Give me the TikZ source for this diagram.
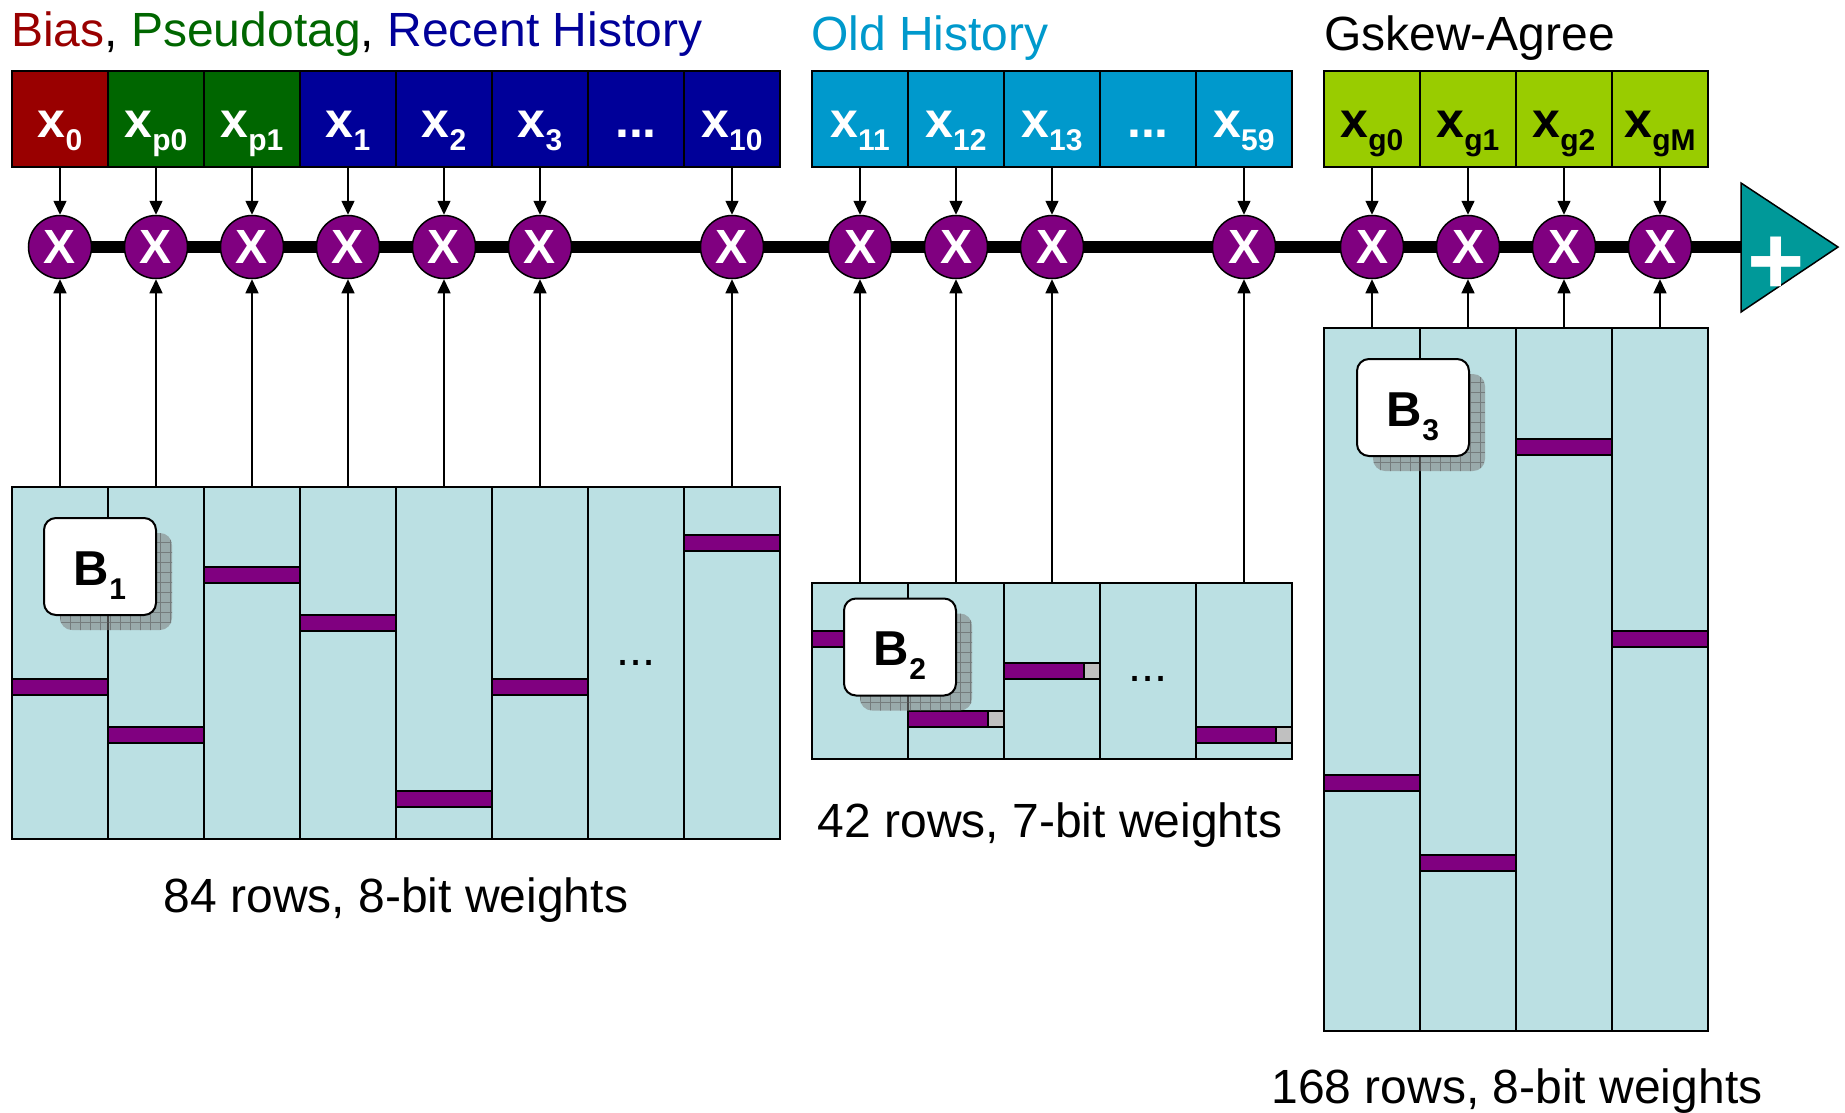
\documentclass[tikz,border=0pt]{standalone}
\usepackage{fontspec}
\setmainfont{Liberation Sans}
\usetikzlibrary{arrows.meta,shadows,patterns.meta}
\definecolor{cRed}{HTML}{990000}
\definecolor{cGreen}{HTML}{006600}
\definecolor{cBlue}{HTML}{000099}
\definecolor{cOld}{HTML}{0099CC}
\definecolor{cGsk}{HTML}{99CC00}
\definecolor{cPurple}{HTML}{800080}
\definecolor{cTeal}{HTML}{009999}
\definecolor{cTable}{HTML}{BBE0E3}
\definecolor{cEnd}{HTML}{C0C0C0}
\newcommand\mysub[1]{\raisebox{-13pt}{\fontsize{30}{30}\selectfont #1}}
\newcommand\bsub[1]{\raisebox{-14pt}{\fontsize{30}{30}\selectfont #1}}
\tikzset{
  cell/.style={draw, line width=2pt, minimum width=96pt, minimum height=96pt, inner sep=0pt,
    text height=36pt, text depth=0pt, font=\fontsize{50}{50}\selectfont\bfseries, text=white},
  mult/.style={circle, draw, line width=1.5pt, fill=cPurple, minimum size=63pt, inner sep=0pt,
    text=white, font=\fontsize{48}{48}\selectfont\bfseries},
  col/.style={draw, line width=2pt, fill=cTable, minimum width=96pt, inner sep=0pt},
  bar/.style={draw, line width=1.5pt, fill=cPurple},
  barend/.style={draw, line width=1.5pt, fill=cEnd},
  arr/.style={line width=1.5pt, -{Triangle[length=14pt,width=13pt]}},
  bus/.style={line width=12pt},
  blabel/.style={draw, line width=2pt, fill=white, rounded corners=12pt, minimum width=112pt,
    minimum height=97pt, inner sep=0pt, text height=37pt, text depth=0pt,
    font=\fontsize{49}{49}\selectfont\bfseries,
    drop shadow={shadow xshift=16pt, shadow yshift=-15pt, fill=gray, opacity=0.56,
      postaction={pattern={Hatch[angle=0,distance=10pt,line width=0.6pt]}, pattern color=gray!70!black}}},
  title/.style={anchor=base west, inner sep=0pt, font=\fontsize{48}{56}\selectfont},
  caption/.style={anchor=base, inner sep=0pt, font=\fontsize{48}{56}\selectfont},
  dots/.style={anchor=base, inner sep=0pt, font=\fontsize{47}{56}\selectfont}
}
\begin{document}
\begin{tikzpicture}[x=1pt,y=-1pt]
\useasboundingbox (0,0) rectangle (1845,1112);

% titles
\node[title] (t1) at (11,46) {\textcolor{cRed}{Bias}, \textcolor{cGreen}{Pseudotag}, \textcolor{cBlue}{Recent History}};
\node[title, text=cOld] (t2) at (811,50) {Old History};
\node[title] (t3) at (1324,50) {Gskew-Agree};

% top cells
\node[cell, fill=cRed]   (c0)  at (60,119)  {x\mysub{0}};
\node[cell, fill=cGreen] (cp0) at (156,119) {x\mysub{p0}};
\node[cell, fill=cGreen] (cp1) at (252,119) {x\mysub{p1}};
\node[cell, fill=cBlue]  (c1)  at (348,119) {x\mysub{1}};
\node[cell, fill=cBlue]  (c2)  at (444,119) {x\mysub{2}};
\node[cell, fill=cBlue]  (c3)  at (540,119) {x\mysub{3}};
\node[cell, fill=cBlue]  (cd1) at (636,119) {...};
\node[cell, fill=cBlue]  (c10) at (732,119) {x\mysub{10}};

\node[cell, fill=cOld] (c11) at (860,119)  {x\mysub{11}};
\node[cell, fill=cOld] (c12) at (956,119)  {x\mysub{12}};
\node[cell, fill=cOld] (c13) at (1052,119) {x\mysub{13}};
\node[cell, fill=cOld] (cd2) at (1148,119) {...};
\node[cell, fill=cOld] (c59) at (1244,119) {x\mysub{59}};

\node[cell, fill=cGsk, text=black] (cg0) at (1372,119) {x\mysub{g0}};
\node[cell, fill=cGsk, text=black] (cg1) at (1468,119) {x\mysub{g1}};
\node[cell, fill=cGsk, text=black] (cg2) at (1564,119) {x\mysub{g2}};
\node[cell, fill=cGsk, text=black] (cgM) at (1660,119) {x\mysub{gM}};

% summation triangle
\coordinate (triin) at (1741,247);
\filldraw[fill=cTeal, draw=black, line width=1.5pt] (1741,183) -- (1838,247) -- (1741,312) -- cycle;
\node[inner sep=0pt, text=white, font=\fontsize{98}{98}\selectfont\bfseries] (plus) at (1776,266) {+};

% bus line
\coordinate (busstart) at (60,247);
\draw[bus] (busstart) -- (triin);

% multipliers
\foreach \n/\x in {m0/60, mp0/156, mp1/252, m1/348, m2/444, m3/540, m10/732,
                   m11/860, m12/956, m13/1052, m59/1244,
                   mg0/1372, mg1/1468, mg2/1564, mgM/1660}
  \node[mult] (\n) at (\x,247) {X};

% top arrows
\foreach \c/\m in {c0/m0, cp0/mp0, cp1/mp1, c1/m1, c2/m2, c3/m3, c10/m10,
                   c11/m11, c12/m12, c13/m13, c59/m59,
                   cg0/mg0, cg1/mg1, cg2/mg2, cgM/mgM}
  \draw[arr] (\c.south) -- (\m.north);

% table B1
\foreach \i/\x in {1/60, 2/156, 3/252, 4/348, 5/444, 6/540, 7/636, 8/732}
  \node[col, minimum height=352pt] (a\i) at (\x,663) {};
\draw[bar] (12,679) rectangle (108,695);
\draw[bar] (108,727) rectangle (204,743);
\draw[bar] (204,567) rectangle (300,583);
\draw[bar] (300,615) rectangle (396,631);
\draw[bar] (396,791) rectangle (492,807);
\draw[bar] (492,679) rectangle (588,695);
\draw[bar] (684,535) rectangle (780,551);
\node[dots] (ad) at (636,665) {...};

% table B2
\foreach \i/\x in {1/860, 2/956, 3/1052, 4/1148, 5/1244}
  \node[col, minimum height=176pt] (b\i) at (\x,671) {};
\draw[bar] (812,631) rectangle (892,647);   \draw[barend] (892,631) rectangle (908,647);
\draw[bar] (908,711) rectangle (988,727);   \draw[barend] (988,711) rectangle (1004,727);
\draw[bar] (1004,663) rectangle (1084,679); \draw[barend] (1084,663) rectangle (1100,679);
\draw[bar] (1196,727) rectangle (1276,743); \draw[barend] (1276,727) rectangle (1292,743);
\node[dots] (bd) at (1148,681) {...};

% table B3
\foreach \i/\x in {1/1372, 2/1468, 3/1564, 4/1660}
  \node[col, minimum height=703pt] (g\i) at (\x,679.5) {};
\draw[bar] (1324,775) rectangle (1420,791);
\draw[bar] (1420,855) rectangle (1516,871);
\draw[bar] (1516,439) rectangle (1612,455);
\draw[bar] (1612,631) rectangle (1708,647);

% bottom arrows
\foreach \c/\m in {a1/m0, a2/mp0, a3/mp1, a4/m1, a5/m2, a6/m3, a8/m10,
                   b1/m11, b2/m12, b3/m13, b5/m59,
                   g1/mg0, g2/mg1, g3/mg2, g4/mgM}
  \draw[arr] (\c.north) -- (\m.south);

% B labels
\node[blabel] (B1) at (100,566.5) {B\bsub{1}};
\node[blabel] (B2) at (900,647) {B\bsub{2}};
\node[blabel] (B3) at (1413,407.5) {B\bsub{3}};

% captions
\node[caption] (cap1) at (396,912) {84 rows, 8-bit weights};
\node[caption] (cap2) at (1050,837) {42 rows, 7-bit weights};
\node[caption] (cap3) at (1517,1103) {168 rows, 8-bit weights};
\end{tikzpicture}
\end{document}
